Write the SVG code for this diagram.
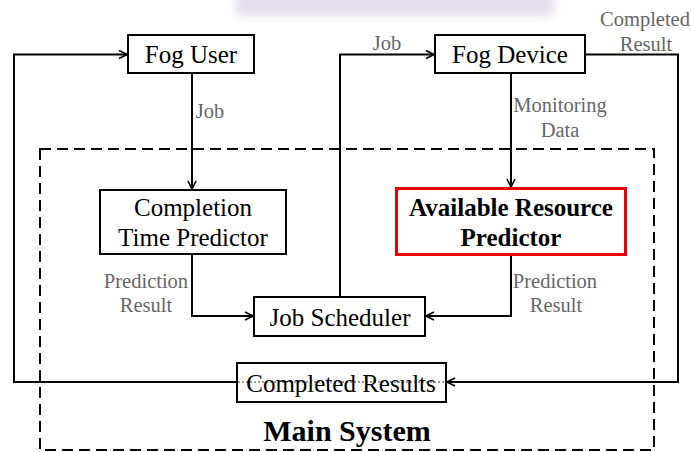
<svg xmlns="http://www.w3.org/2000/svg" width="691" height="452" viewBox="0 0 691 452">
  <style>
    .box { fill: #ffffff; stroke: #000000; stroke-width: 2; }
    .hot { fill: #ffffff; stroke: #e8000b; stroke-width: 3; }
    .wire { fill: none; stroke: #000000; stroke-width: 2; }
    .frame { fill: none; stroke: #000000; stroke-width: 2; stroke-dasharray: 11 6; }
    .name { font-family: "Liberation Serif", "Times New Roman", serif; font-size: 25px; fill: #000000; text-anchor: middle; }
    .strong { font-weight: bold; }
    .title { font-size: 30px; }
    .note { font-family: "Liberation Serif", "Times New Roman", serif; font-size: 20.5px; fill: #666666; text-anchor: middle; }
  </style>
  <defs>
    <marker id="tip" viewBox="0 0 10 10" refX="9" refY="5" markerWidth="10" markerHeight="10" markerUnits="userSpaceOnUse" orient="auto">
      <path d="M1,1 L9,5 L1,9" fill="none" stroke="#000000" stroke-width="1.6"/>
    </marker>
    <filter id="soft" x="-20%" y="-100%" width="140%" height="300%">
      <feGaussianBlur stdDeviation="4"/>
    </filter>
  </defs>

  <rect width="691" height="452" fill="#ffffff"/>

  <!-- faint stamp at the top edge -->
  <rect x="235" y="-6" width="320" height="22" rx="8" fill="#b9b0cc" opacity="0.4" filter="url(#soft)"/>

  <!-- main system boundary -->
  <g id="main-system">
    <rect class="frame" x="40" y="149" width="614" height="301"/>
    <text class="name strong title" x="347" y="441">Main System</text>
  </g>

  <!-- connectors -->
  <g id="connectors">
    <!-- Completed Results back to Fog User -->
    <polyline class="wire" points="237,382 14,382 14,54.5 127,54.5" marker-end="url(#tip)"/>
    <!-- Fog User to Completion Time Predictor -->
    <line class="wire" x1="192" y1="74" x2="192" y2="189" marker-end="url(#tip)"/>
    <!-- Job Scheduler to Fog Device -->
    <polyline class="wire" points="340,297 340,54.5 434,54.5" marker-end="url(#tip)"/>
    <!-- Fog Device to Available Resource Predictor -->
    <line class="wire" x1="511" y1="74" x2="511" y2="187" marker-end="url(#tip)"/>
    <!-- Fog Device result to Completed Results -->
    <polyline class="wire" points="586,54.5 678,54.5 678,382 447,382" marker-end="url(#tip)"/>
    <!-- predictors to Job Scheduler -->
    <polyline class="wire" points="192,254 192,316 253,316" marker-end="url(#tip)"/>
    <polyline class="wire" points="511,254 511,316 426,316" marker-end="url(#tip)"/>

    <text class="note" x="210" y="118">Job</text>
    <text class="note" x="387" y="50">Job</text>
    <text class="note" x="560" y="112">Monitoring</text>
    <text class="note" x="560" y="137">Data</text>
    <text class="note" x="645" y="26">Completed</text>
    <text class="note" x="646" y="51">Result</text>
    <text class="note" x="146" y="288">Prediction</text>
    <text class="note" x="146" y="312">Result</text>
    <text class="note" x="555" y="288">Prediction</text>
    <text class="note" x="556" y="312">Result</text>
  </g>

  <g id="fog-user">
    <rect class="box" x="128" y="35" width="126" height="38"/>
    <text class="name" x="191" y="63">Fog User</text>
  </g>

  <g id="fog-device">
    <rect class="box" x="435" y="35" width="150" height="38"/>
    <text class="name" x="510" y="63">Fog Device</text>
  </g>

  <g id="completion-time-predictor">
    <rect class="box" x="100" y="190" width="186" height="64"/>
    <text class="name" x="193" y="216">Completion</text>
    <text class="name" x="193" y="246">Time Predictor</text>
  </g>

  <g id="available-resource-predictor">
    <rect class="hot" x="396.5" y="188.5" width="229" height="66"/>
    <text class="name strong" x="511" y="216">Available Resource</text>
    <text class="name strong" x="511" y="246">Predictor</text>
  </g>

  <g id="job-scheduler">
    <rect class="box" x="254" y="297" width="171" height="39"/>
    <text class="name" x="340" y="326">Job Scheduler</text>
  </g>

  <g id="completed-results">
    <rect class="box" x="237" y="363" width="209" height="39"/>
    <line x1="238" y1="382" x2="445" y2="382" stroke="#9a9a9a" stroke-width="2" stroke-dasharray="2 2"/>
    <text class="name" x="341" y="392">Completed Results</text>
  </g>
</svg>
